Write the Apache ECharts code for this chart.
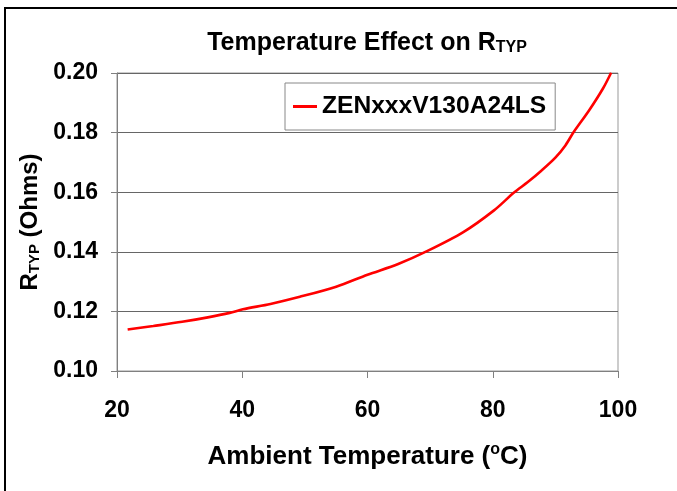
<!DOCTYPE html>
<html>
<head>
<meta charset="utf-8">
<script src="https://cdn.jsdelivr.net/npm/echarts@6/dist/echarts.min.js"></script>
<style>
html,body{margin:0;padding:0;background:#fff;}
#chart{width:677px;height:491px;}
</style>
</head>
<body>
<div id="chart"></div>
<script>
const seriesName = 'ZENxxxV130A24LS';
const temps = [21.7, 25.8, 30.4, 34.5, 38.0, 40.1, 44.5, 49.2, 55.0, 60.0, 64.9, 69.5, 75.3, 80.2, 83.4, 85.6, 87.8, 90.0, 91.6, 92.9, 95.4, 97.6, 98.9];
const rtyp  = [0.1139, 0.1151, 0.1165, 0.1180, 0.1195, 0.1207, 0.1225, 0.1249, 0.1283, 0.1323, 0.1359, 0.1402, 0.1466, 0.1539, 0.1599, 0.1634, 0.1673, 0.1716, 0.1757, 0.1801, 0.1875, 0.1948, 0.2001];
const xTicks = [20, 40, 60, 80, 100];
const yTicks = [0.10, 0.12, 0.14, 0.16, 0.18, 0.20];

const FONT = '"Liberation Sans", Arial, sans-serif';
const chart = echarts.init(document.getElementById('chart'), null, {renderer: 'canvas'});
const data = temps.map((t, i) => [t, rtyp[i]]);

chart.setOption({
  backgroundColor: '#fff',
  animation: false,
  title: {
    text: '{a|Temperature Effect on R}{s|TYP}',
    left: 362,
    textAlign: 'center',
    top: 21,
    textStyle: {
      rich: {
        a: {fontFamily: FONT, fontWeight: 'bold', fontSize: 25, color: '#000', lineHeight: 30, verticalAlign: 'bottom'},
        s: {fontFamily: FONT, fontWeight: 'bold', fontSize: 16, color: '#000', lineHeight: 30, verticalAlign: 'bottom'}
      }
    }
  },
  legend: {
    left: 285,
    top: 83,
    padding: [11, 9, 11, 8],
    borderColor: '#888',
    borderWidth: 1,
    backgroundColor: '#fff',
    icon: 'rect',
    itemWidth: 24,
    itemHeight: 3,
    textStyle: {fontFamily: FONT, fontWeight: 'bold', fontSize: 24.6, color: '#000'},
    data: [seriesName]
  },
  grid: {
    left: 117, right: 59, top: 73, bottom: 120,
    show: true, borderColor: '#999', borderWidth: 1, backgroundColor: 'transparent'
  },
  xAxis: {
    type: 'value',
    min: xTicks[0], max: xTicks[xTicks.length - 1], interval: 20,
    name: '{a|Ambient Temperature (}{p|o}{a|C)}',
    nameLocation: 'middle',
    nameGap: 71,
    nameTextStyle: {
      rich: {
        a: {fontFamily: FONT, fontWeight: 'bold', fontSize: 26, color: '#000', lineHeight: 28, verticalAlign: 'bottom'},
        p: {fontFamily: FONT, fontWeight: 'bold', fontSize: 16, color: '#000', lineHeight: 28, verticalAlign: 'top'}
      }
    },
    axisLine: {show: true, lineStyle: {color: '#808080', width: 1}},
    axisTick: {show: true, inside: false, length: 7, lineStyle: {color: '#808080'}},
    axisLabel: {fontFamily: FONT, fontWeight: 'bold', fontSize: 23, color: '#000', margin: 28},
    splitLine: {show: false}
  },
  yAxis: {
    type: 'value',
    min: yTicks[0], max: yTicks[yTicks.length - 1], interval: 0.02,
    name: '{a|R}{s|TYP}{a| (Ohms)}',
    nameLocation: 'middle',
    nameGap: 75,
    nameRotate: 90,
    nameTextStyle: {
      rich: {
        a: {fontFamily: FONT, fontWeight: 'bold', fontSize: 24, color: '#000', lineHeight: 28, verticalAlign: 'bottom'},
        s: {fontFamily: FONT, fontWeight: 'bold', fontSize: 15, color: '#000', lineHeight: 28, verticalAlign: 'bottom'}
      }
    },
    axisLine: {show: true, lineStyle: {color: '#808080', width: 1}},
    axisTick: {show: true, inside: false, length: 6, lineStyle: {color: '#808080'}},
    axisLabel: {fontFamily: FONT, fontWeight: 'bold', fontSize: 23, color: '#000', margin: 19,
      formatter: v => v.toFixed(2)},
    splitLine: {show: true, lineStyle: {color: '#666', width: 1}}
  },
  series: [{
    name: seriesName,
    type: 'line',
    data: data,
    smooth: 0.3,
    showSymbol: false,
    symbol: 'none',
    lineStyle: {color: '#ff0000', width: 2.6},
    itemStyle: {color: '#ff0000'}
  }],
  graphic: [{
    type: 'rect',
    shape: {x: 5, y: 8, width: 800, height: 600},
    style: {fill: 'none', stroke: '#000', lineWidth: 2},
    silent: true,
    z: 100
  }]
});
</script>
</body>
</html>
